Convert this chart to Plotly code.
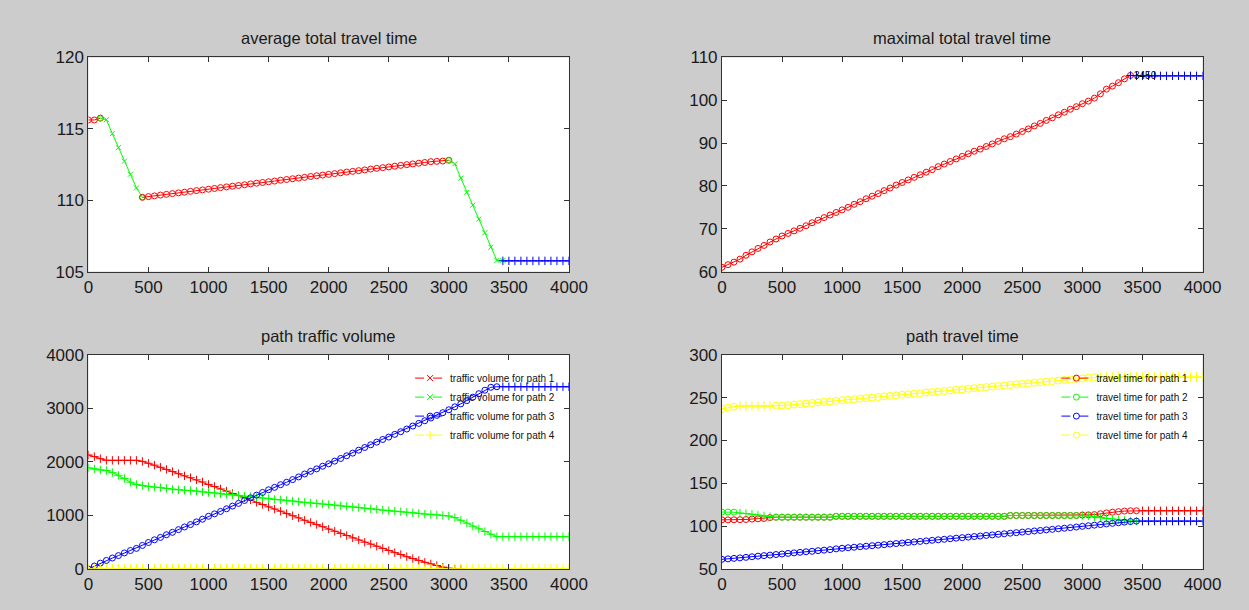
import plotly.graph_objects as go

STEP = 50

# ---------------- average total travel time ----------------
AVG_RED_A = [115.62, 115.62, 115.75]                      # x 0..100
AVG_GREEN_A = [115.73, 115.64, 114.66, 113.68, 112.73,
               111.82, 110.86, 110.20]                     # x 100..450
AVG_RED_B = [110.20, 110.25, 110.30, 110.36, 110.41, 110.46, 110.51, 110.56, 110.62, 110.67,
             110.72, 110.77, 110.82, 110.88, 110.93, 110.98, 111.03, 111.08, 111.14, 111.19,
             111.24, 111.29, 111.34, 111.40, 111.45, 111.50, 111.55, 111.60, 111.66, 111.71,
             111.76, 111.81, 111.86, 111.92, 111.97, 112.02, 112.07, 112.12, 112.18, 112.23,
             112.28, 112.33, 112.38, 112.44, 112.49, 112.54, 112.59, 112.64, 112.70, 112.72,
             112.74, 112.80]                               # x 450..3000
AVG_GREEN_B = [112.80, 112.55, 111.55, 110.55, 109.65, 108.68, 107.72, 106.70,
               105.78, 105.78]                             # x 3000..3450
AVG_BLUE = [105.75, 105.75, 105.75, 105.75, 105.75, 105.75,
            105.75, 105.75, 105.75, 105.75, 105.75, 105.75]  # x 3450..4000

# ---------------- maximal total travel time ----------------
MAX_RED = [61.0, 61.6, 62.2, 62.9, 63.8, 64.6, 65.4, 66.1, 66.9, 67.6, 68.3,
           68.9, 69.5, 70.1, 70.7, 71.4, 72.0, 72.6, 73.2, 73.8, 74.4,
           75.0, 75.7, 76.3, 77.0, 77.6, 78.2, 78.9, 79.5, 80.2, 80.8,
           81.4, 82.0, 82.6, 83.2, 83.8, 84.5, 85.1, 85.7, 86.3, 86.9,
           87.5, 88.1, 88.6, 89.2, 89.8, 90.4, 91.0, 91.5, 92.1, 92.7,
           93.3, 94.0, 94.6, 95.3, 95.9, 96.6, 97.2, 97.9, 98.5, 99.2,
           99.8, 100.5, 101.5, 102.6, 103.3, 104.1, 105.0, 105.8]   # x 0..3400
MAX_BLUE = [105.8, 105.7, 105.7, 105.7, 105.7, 105.7, 105.7,
            105.7, 105.7, 105.7, 105.7, 105.7, 105.7]               # x 3400..4000
MAX_LABEL = "3450"

# ---------------- path traffic volume ----------------
VOL1 = [2130, 2100, 2060, 2030, 2030, 2030, 2030, 2030, 2030, 2010,
        1975, 1940, 1900, 1860, 1820, 1780, 1740, 1705, 1665, 1625,
        1580, 1540, 1495, 1455, 1410, 1370, 1330, 1290, 1245, 1205,
        1160, 1120, 1080, 1035, 995, 955, 910, 870, 830, 790,
        745, 705, 665, 625, 580, 540, 500, 465, 425, 385,
        345, 305, 270, 230, 195, 160, 125, 95, 65, 35,
        15, 0, 0]                                                   # x 0..3100
VOL2 = [1890, 1870, 1850, 1840, 1800, 1750, 1690, 1620, 1580, 1560,
        1540, 1530, 1520, 1505, 1490, 1480, 1470, 1465, 1455, 1440,
        1430, 1420, 1405, 1395, 1385, 1375, 1360, 1350, 1340, 1325,
        1315, 1300, 1290, 1280, 1270, 1255, 1245, 1235, 1225, 1215,
        1205, 1195, 1180, 1170, 1160, 1150, 1135, 1125, 1115, 1100,
        1090, 1080, 1070, 1060, 1050, 1040, 1025, 1020, 1010, 1000,
        990, 960, 910, 855, 800, 750, 700, 650, 605, 605,
        605, 605, 605, 605, 605, 605, 605, 605, 605, 605, 605]      # x 0..4000
VOL3 = [0, 55, 110, 160, 205, 250, 300, 345, 385, 440,
        495, 545, 590, 640, 685, 735, 785, 830, 880, 930,
        985, 1030, 1075, 1125, 1175, 1225, 1280, 1330, 1380, 1430,
        1480, 1525, 1575, 1620, 1670, 1720, 1775, 1825, 1870, 1920,
        1965, 2015, 2065, 2115, 2165, 2220, 2270, 2320, 2370, 2420,
        2465, 2515, 2565, 2615, 2670, 2720, 2770, 2820, 2870, 2920,
        2975, 3030, 3085, 3145, 3210, 3275, 3340, 3395, 3405, 3405,
        3405, 3405, 3405, 3405, 3405, 3405, 3405, 3405, 3405, 3405, 3405]  # x 0..4000
VOL4 = [0, 0, 0, 0, 0, 0, 0, 0, 0, 0, 0, 0, 0, 0, 0, 0, 0, 0, 0, 0,
        0, 0, 0, 0, 0, 0, 0, 0, 0, 0, 0, 0, 0, 0, 0, 0, 0, 0, 0, 0,
        0, 0, 0, 0, 0, 0, 0, 0, 0, 0, 0, 0, 0, 0, 0, 0, 0, 0, 0, 0,
        0, 0, 0, 0, 0, 0, 0, 0, 0, 0, 0, 0, 0, 0, 0, 0, 0, 0, 0, 0, 0]  # x 0..4000

# ---------------- path travel time ----------------
TT1 = [107.4, 107.4, 107.5, 107.6, 107.8, 108.3, 108.6, 109.0, 110.0,
       110.5, 110.5, 110.5, 110.5, 110.5, 110.5, 110.5, 110.5, 110.5, 110.5,
       111.5, 111.5, 111.5, 111.5, 111.5, 111.5, 111.5, 111.5, 111.5, 111.5,
       111.5, 111.5, 111.5, 111.5, 111.5, 111.5, 111.5, 111.5, 111.5, 111.5,
       111.5, 111.5, 111.5, 111.5, 111.5, 111.5, 111.5, 111.5, 111.5,
       112.5, 112.5, 112.5, 112.5, 112.5, 112.5, 112.5, 112.5, 112.5, 112.5, 112.5, 112.5,
       113.0, 113.2, 113.5, 114.5, 115.5, 116.3, 117.0, 117.6, 118.0, 118.0,
       118.0, 118.0, 118.0, 118.0, 118.0, 118.0, 118.0, 118.0, 118.0, 118.0, 118.0]  # x 0..4000
TT2 = [116.5, 116.5, 116.3, 115.3, 114.8, 114.0, 113.0, 112.0, 111.0,
       110.5, 110.5, 110.5, 110.5, 110.5, 110.5, 110.5, 110.5, 110.5, 110.5,
       111.5, 111.5, 111.5, 111.5, 111.5, 111.5, 111.5, 111.5, 111.5, 111.5,
       111.5, 111.5, 111.5, 111.5, 111.5, 111.5, 111.5, 111.5, 111.5, 111.5,
       111.5, 111.5, 111.5, 111.5, 111.5, 111.5, 111.5, 111.5, 111.5,
       112.5, 112.5, 112.5, 112.5, 112.5, 112.5, 112.5, 112.5, 112.5, 112.5, 112.5, 112.5,
       112.5, 112.0, 111.0, 110.0, 109.0, 108.3, 107.5, 106.8, 106.0, 105.9]  # x 0..3450
TT3 = [61.3, 61.8, 62.4, 63.0, 63.6, 64.3, 65.0, 65.6, 66.2, 66.9,
       67.5, 68.2, 68.8, 69.5, 70.1, 70.7, 71.4, 72.0, 72.6, 73.5,
       74.2, 74.8, 75.4, 76.0, 76.6, 77.2, 77.8, 78.4, 79.1, 79.7,
       80.3, 81.0, 81.6, 82.2, 82.8, 83.5, 84.1, 84.7, 85.3, 86.0,
       86.6, 87.2, 87.9, 88.5, 89.2, 89.8, 90.5, 91.1, 91.8, 92.4,
       93.1, 93.7, 94.4, 95.0, 95.7, 96.3, 97.0, 97.6, 98.3, 99.0,
       99.8, 100.5, 101.2, 101.9, 102.6, 103.3, 104.0, 104.7, 105.4, 105.9,
       105.9, 105.9, 105.9, 105.9, 105.9, 105.9, 105.9, 105.9, 105.9, 105.9, 105.9]  # x 0..4000
TT4 = [237.0, 238.5, 239.5, 240.3, 240.3, 240.3, 240.3, 240.3, 240.3,
       240.5, 240.8, 241.3, 241.9, 242.5, 243.2, 243.8, 244.4, 245.1, 245.7,
       246.4, 247.0, 247.6, 248.3, 248.9, 249.6, 250.2, 250.8, 251.5, 252.1,
       252.8, 253.4, 254.0, 254.7, 255.3, 256.0, 256.6, 257.2, 257.9, 258.5,
       259.2, 259.8, 260.4, 261.1, 261.7, 262.4, 263.0, 263.6, 264.3, 264.9,
       265.6, 266.2, 266.8, 267.5, 268.1, 268.8, 269.4, 270.0, 270.7, 271.3,
       272.0, 272.6, 273.4, 274.0,
       274.0, 274.0, 274.0, 274.0, 274.0, 274.0, 274.0, 274.0, 274.0,
       274.0, 274.0, 274.0, 274.0, 274.0, 274.0, 274.0, 274.0, 274.0]  # x 0..4000

TITLES = ["average total travel time", "maximal total travel time",
          "path traffic volume", "path travel time"]
VOL_NAMES = ["traffic volume for path 1", "traffic volume for path 2",
             "traffic volume for path 3", "traffic volume for path 4"]
TT_NAMES = ["travel time for path 1", "travel time for path 2",
            "travel time for path 3", "travel time for path 4"]

RED, GREEN, BLUE, YELLOW = "#ff0000", "#00ff00", "#0000ff", "#ffff00"
CIRC, PLUS, CROSS = "circle-open", "cross-thin-open", "x-thin-open"


def xs(start, ys):
    return list(range(start, start + STEP * len(ys), STEP))


def seg_symbols(x, rules, default):
    out = []
    for v in x:
        s = default
        for lo, hi, sym in rules:
            if lo <= v <= hi:
                s = sym
                break
        out.append(s)
    return out


fig = go.Figure()


def add(x, y, color, symbol, ax, size=6):
    fig.add_trace(go.Scatter(
        x=x, y=y, mode="lines+markers", showlegend=False,
        line=dict(color=color, width=1),
        marker=dict(symbol=symbol, size=size, color=color, line=dict(color=color, width=1)),
        xaxis="x" + ax, yaxis="y" + ax, hoverinfo="skip"))


# Panel 1
add(xs(0, AVG_RED_A), AVG_RED_A, RED, CIRC, "")
gx = xs(100, AVG_GREEN_A)
add(gx, AVG_GREEN_A, GREEN, seg_symbols(gx, [(100, 100, CIRC), (450, 450, CIRC)], CROSS), "", 5)
add(xs(450, AVG_RED_B), AVG_RED_B, RED, CIRC, "")
gx = xs(3000, AVG_GREEN_B)
add(gx, AVG_GREEN_B, GREEN, seg_symbols(gx, [(3000, 3000, CIRC)], CROSS), "", 5)
add(xs(3450, AVG_BLUE), AVG_BLUE, BLUE, PLUS, "", 6)

# Panel 2
add(xs(0, MAX_RED), MAX_RED, RED, CIRC, "2")
add(xs(3400, MAX_BLUE), MAX_BLUE, BLUE, PLUS, "2")

# Panel 3
add(xs(0, VOL1), VOL1, RED, PLUS, "3")
add(xs(0, VOL2), VOL2, GREEN, PLUS, "3")
vx = xs(0, VOL3)
add(vx, VOL3, BLUE, seg_symbols(vx, [(0, 3400, CIRC)], PLUS), "3")
add(xs(0, VOL4), VOL4, YELLOW, PLUS, "3", 7)

# Panel 4
tx = xs(0, TT1)
add(tx, TT1, RED, seg_symbols(tx, [(0, 3450, CIRC)], PLUS), "4")
tx = xs(0, TT2)
add(tx, TT2, GREEN, seg_symbols(tx, [(0, 100, CIRC), (150, 400, PLUS), (450, 2950, CIRC)], PLUS), "4")
tx = xs(0, TT3)
add(tx, TT3, BLUE, seg_symbols(tx, [(0, 3450, CIRC)], PLUS), "4")
tx = xs(0, TT4)
add(tx, TT4, YELLOW, seg_symbols(tx, [(0, 100, CIRC), (150, 400, PLUS), (450, 3100, CIRC)], PLUS), "4", 7)

# legend-only entries
for name, col, sym in zip(VOL_NAMES, [RED, GREEN, BLUE, YELLOW], [CROSS, CROSS, CIRC, PLUS]):
    fig.add_trace(go.Scatter(x=[None], y=[None], mode="lines+markers", name=name,
                             line=dict(color=col, width=1, dash="dash"),
                             marker=dict(symbol=sym, size=6, color=col, line=dict(color=col, width=1)),
                             xaxis="x3", yaxis="y3", legend="legend"))
for name, col in zip(TT_NAMES, [RED, GREEN, BLUE, YELLOW]):
    fig.add_trace(go.Scatter(x=[None], y=[None], mode="lines+markers", name=name,
                             line=dict(color=col, width=1, dash="dash"),
                             marker=dict(symbol=CIRC, size=6, color=col, line=dict(color=col, width=1)),
                             xaxis="x4", yaxis="y4", legend="legend2"))

W, H = 1249, 610
LX = [85 / W, 575 / W]
RX = [731 / W, 1221 / W]
TY = [1 - 271 / H, 1 - 50 / H]
BY = [1 - 578 / H, 1 - 357 / H]

FONT = "Liberation Sans, Arial, sans-serif"
tickfont = dict(family=FONT, size=17, color="#1a1a1a")


def xax(dom, anchor):
    return dict(domain=dom, anchor=anchor, range=[0, 4000], tickmode="linear", tick0=0, dtick=500,
                ticks="inside", ticklen=5, tickcolor="#333", showline=True, linecolor="#333",
                linewidth=1, mirror="ticks", showgrid=False, zeroline=False, tickfont=tickfont)


def yax(dom, anchor, rng, dt):
    return dict(domain=dom, anchor=anchor, range=rng, tickmode="linear", tick0=rng[0], dtick=dt,
                ticks="inside", ticklen=5, tickcolor="#333", showline=True, linecolor="#333",
                linewidth=1, mirror="ticks", showgrid=False, zeroline=False, tickfont=tickfont)


annotations = []
for title, xc, yc in zip(TITLES, [sum(LX) / 2, sum(RX) / 2, sum(LX) / 2, sum(RX) / 2],
                         [1 - 30 / H, 1 - 30 / H, 1 - 338 / H, 1 - 338 / H]):
    annotations.append(dict(text=title, x=xc, y=yc, xref="paper", yref="paper",
                            xanchor="center", yanchor="middle", showarrow=False,
                            font=dict(family=FONT, size=16.5, color="#1a1a1a")))
annotations.append(dict(text=MAX_LABEL, x=3525, y=MAX_BLUE[1], xref="x2", yref="y2",
                        showarrow=False, xanchor="center", yanchor="middle",
                        font=dict(family=FONT, size=10, color="#000")))

legend_common = dict(xanchor="left", yanchor="top", bgcolor="rgba(0,0,0,0)", borderwidth=0,
                     font=dict(family=FONT, size=10, color="#111"), tracegroupgap=0)

fig.update_layout(
    width=W, height=H, autosize=False,
    margin=dict(l=0, r=0, t=0, b=0),
    paper_bgcolor="#cccccc", plot_bgcolor="#ffffff",
    xaxis=xax(LX, "y"), yaxis=yax(TY, "x", [105, 120], 5),
    xaxis2=xax(RX, "y2"), yaxis2=yax(TY, "x2", [60, 110], 10),
    xaxis3=xax(LX, "y3"), yaxis3=yax(BY, "x3", [0, 4000], 1000),
    xaxis4=xax(RX, "y4"), yaxis4=yax(BY, "x4", [50, 300], 50),
    legend=dict(x=(458 - 45) / W, y=1 - 366 / H, **legend_common),
    legend2=dict(x=(1117 - 45) / W, y=1 - 366 / H, **legend_common),
    annotations=annotations,
    showlegend=True,
)

fig.write_html("out.html", config={"displayModeBar": False},
               post_script="document.body.style.margin='0';document.body.style.overflow='hidden';")
